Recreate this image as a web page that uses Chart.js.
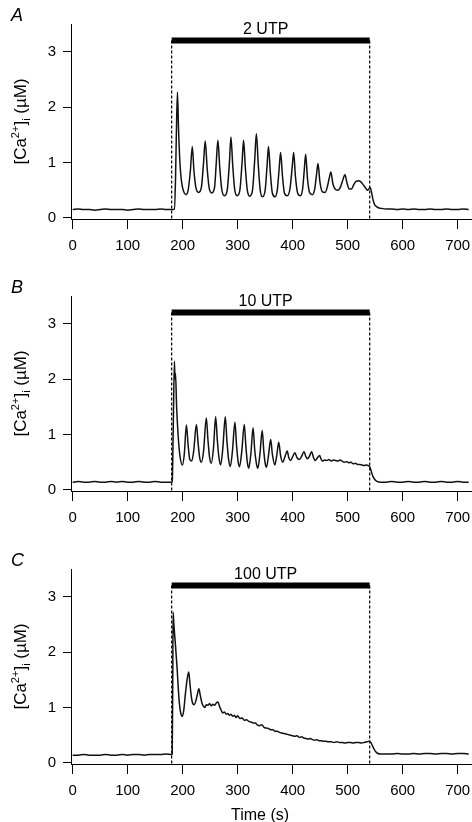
<!DOCTYPE html>
<html>
<head>
<meta charset="utf-8">
<script src="https://cdn.jsdelivr.net/npm/chart.js"></script>
<style>
  body { margin: 0; background: #fff; }
  .panel { position: relative; width: 472px; }
</style>
</head>
<body>
<div class="panel" style="height:272px"><canvas id="chartA"></canvas></div>
<div class="panel" style="height:273px"><canvas id="chartB"></canvas></div>
<div class="panel" style="height:277px"><canvas id="chartC"></canvas></div>
<script>
// Data (time in s, [Ca2+]i in uM)
const xTicks = [0, 100, 200, 300, 400, 500, 600, 700];
const yTicks = [0, 1, 2, 3];
const stimOn = 180;
const stimOff = 540;
const barLevel = 3.2;
const stimLabels = ['2 UTP', '10 UTP', '100 UTP'];
const panelLetters = ['A', 'B', 'C'];

const traceA = [
  [0,0.15],[10,0.16],[20,0.15],[30,0.15],[40,0.14],[50,0.15],[60,0.16],[70,0.15],[80,0.15],[90,0.15],
  [100,0.14],[110,0.15],[120,0.16],[130,0.15],[140,0.15],[150,0.15],[160,0.16],[170,0.15],[180,0.15],
  [185,0.16],[187,0.7],[188.5,1.5],[190.5,2.27],[192.5,1.6],[195,1.0],[198,0.65],[202,0.47],[206,0.42],
  [210,0.5],[214,0.85],[217.5,1.29],[220.5,0.85],[224,0.55],[229,0.46],[234,0.55],[238,1.0],[241,1.39],
  [244.5,0.9],[248,0.55],[253,0.45],[258,0.55],[261,0.98],[264,1.40],[267.5,0.9],[271,0.52],[276,0.40],
  [281,0.5],[285,1.0],[287.7,1.46],[291,0.95],[294.5,0.52],[299,0.40],[304,0.5],[308,1.0],[310.7,1.40],
  [314,0.9],[317.5,0.5],[322,0.39],[327,0.5],[331,1.05],[334,1.52],[337.5,0.95],[341,0.5],[345,0.38],
  [350,0.5],[353.5,0.95],[356,1.29],[359.5,0.8],[363,0.45],[368,0.38],[372,0.5],[375.5,0.9],[378,1.18],
  [381.5,0.75],[385,0.45],[390,0.40],[395,0.52],[399,0.9],[401.8,1.18],[405,0.75],[409,0.45],[414,0.40],
  [418,0.52],[421,0.85],[423.6,1.15],[427,0.7],[431,0.45],[436,0.42],[440,0.52],[443,0.75],[446,0.98],
  [449.5,0.65],[454,0.47],[459,0.46],[463,0.56],[466.5,0.72],[469.5,0.83],[473,0.62],[477,0.52],[482,0.50],
  [487,0.56],[491,0.68],[495,0.78],[499,0.62],[503,0.52],[507,0.52],[511,0.60],[515,0.66],[520,0.67],
  [524,0.65],[528,0.60],[532,0.55],[536,0.50],[539,0.53],[541,0.55],[543,0.48],[546,0.33],[549,0.24],
  [553,0.20],[557,0.18],[562,0.17],[570,0.16],[580,0.16],[590,0.15],[600,0.16],[610,0.15],[620,0.16],
  [630,0.15],[640,0.15],[650,0.16],[660,0.15],[670,0.15],[680,0.16],[690,0.15],[700,0.15],[710,0.16],[720,0.15]
];

const traceB = [
  [0,0.14],[10,0.15],[20,0.14],[30,0.14],[40,0.15],[50,0.14],[60,0.14],[70,0.15],[80,0.14],[90,0.15],
  [100,0.14],[110,0.14],[120,0.15],[130,0.14],[140,0.14],[150,0.15],[160,0.14],[170,0.14],[180,0.14],
  [181,0.15],[183,1.2],[185,2.32],[186,2.0],[187,2.1],[189,1.5],[192,0.95],[195,0.62],[199.6,0.45],
  [203,0.65],[206.8,1.17],[210,0.8],[213,0.55],[216.5,0.52],[220,0.7],[225,1.18],[228,0.85],[231,0.58],
  [234,0.50],[238,0.7],[243,1.30],[246,0.9],[249,0.58],[252,0.48],[256,0.75],[260,1.32],[263,0.9],
  [266,0.58],[269,0.45],[273,0.75],[277.5,1.32],[280.5,0.88],[283.5,0.55],[286.6,0.42],[290.5,0.7],
  [295,1.22],[298,0.8],[300.7,0.52],[303.4,0.42],[307.5,0.7],[312,1.18],[315,0.78],[317.5,0.5],[320,0.39],
  [324,0.65],[328,1.12],[331,0.72],[334,0.48],[336.7,0.39],[340.5,0.65],[344.6,1.07],[347.5,0.7],[350,0.48],
  [352.4,0.41],[356,0.62],[360,0.91],[363,0.65],[367.5,0.45],[371,0.62],[374.7,0.86],[378,0.62],[382,0.50],
  [386,0.6],[390,0.70],[393,0.58],[396,0.53],[400,0.6],[404,0.67],[408,0.58],[412,0.55],[416,0.6],
  [420.6,0.69],[424,0.6],[427,0.56],[431,0.62],[434.4,0.69],[438,0.58],[441,0.53],[445,0.58],[449,0.62],
  [451.5,0.56],[454,0.52],[458,0.54],[462,0.53],[466,0.55],[470,0.52],[474,0.54],[478,0.53],[482,0.52],
  [486,0.54],[490,0.52],[494,0.50],[498,0.51],[502,0.49],[506,0.50],[510,0.47],[514,0.48],[518,0.46],
  [522,0.46],[526,0.45],[530,0.44],[534,0.45],[537,0.44],[540,0.42],[543,0.33],[546,0.24],[550,0.18],
  [554,0.15],[560,0.14],[570,0.14],[580,0.15],[590,0.14],[600,0.14],[610,0.15],[620,0.14],[630,0.14],
  [640,0.15],[650,0.14],[660,0.14],[670,0.15],[680,0.14],[690,0.14],[700,0.15],[710,0.14],[720,0.14]
];

const traceC = [
  [0,0.14],[10,0.14],[20,0.15],[30,0.14],[40,0.14],[50,0.14],[60,0.15],[70,0.14],[80,0.14],[90,0.15],
  [100,0.14],[110,0.15],[120,0.15],[130,0.14],[140,0.15],[150,0.15],[160,0.15],[170,0.16],[180,0.15],
  [181,0.16],[182,1.5],[182.6,2.72],[184,2.5],[185.5,2.3],[187,2.12],[188.5,1.9],[190,1.69],[192,1.35],
  [194,1.08],[196.5,0.9],[199.6,0.84],[202,0.95],[205,1.25],[208,1.5],[211,1.64],[213.5,1.4],[216,1.18],
  [218,1.08],[220.7,1.05],[224,1.12],[227,1.25],[229.5,1.34],[232,1.22],[235,1.08],[238,1.02],[240,1.0],
  [243,1.05],[246,1.04],[249,1.07],[252,1.03],[255,1.06],[258,1.04],[261,1.08],[264,1.1],[267,1.02],
  [270,0.95],[273,0.9],[276,0.92],[279,0.88],[282,0.89],[285,0.86],[288,0.88],[291,0.84],[294,0.86],
  [297,0.82],[300,0.85],[304,0.80],[308,0.81],[312,0.77],[316,0.78],[320,0.75],[324,0.74],[328,0.72],
  [332,0.72],[336,0.68],[340,0.67],[344,0.69],[348,0.64],[352,0.63],[356,0.62],[360,0.60],[364,0.60],
  [368,0.57],[372,0.57],[376,0.55],[380,0.54],[384,0.53],[388,0.52],[392,0.51],[396,0.50],[400,0.49],
  [404,0.48],[408,0.49],[412,0.46],[416,0.47],[420,0.45],[424,0.44],[428,0.43],[432,0.44],[436,0.42],
  [440,0.41],[444,0.42],[448,0.40],[452,0.40],[456,0.39],[460,0.39],[465,0.38],[470,0.38],[475,0.37],
  [480,0.38],[485,0.37],[490,0.37],[495,0.36],[500,0.37],[505,0.37],[510,0.36],[515,0.37],[520,0.37],
  [525,0.36],[530,0.37],[535,0.38],[539,0.39],[542,0.37],[545,0.31],[548,0.25],[551,0.20],[555,0.17],
  [560,0.16],[570,0.16],[580,0.16],[590,0.17],[600,0.16],[610,0.16],[620,0.17],[630,0.16],[640,0.17],
  [650,0.17],[660,0.16],[670,0.17],[680,0.17],[690,0.16],[700,0.17],[710,0.17],[720,0.16]
];

const traces = [traceA, traceB, traceC];

const FONT = '"Liberation Sans", Arial, Helvetica, sans-serif';
Chart.defaults.font.family = FONT;
Chart.defaults.color = '#000';

const yMin = -0.02, yMax = 3.5;
const xMin = -3, xMax = 726;

// draws the panel letter, stimulus label, y title (with sup/sub) and x title
const decorPlugin = {
  id: 'decor',
  afterDraw(chart, args, opts) {
    const ctx = chart.ctx;
    const xs = chart.scales.x, ys = chart.scales.y;
    ctx.save();
    ctx.fillStyle = '#000';

    // panel letter
    ctx.font = 'italic 18px ' + FONT;
    ctx.textAlign = 'left';
    ctx.textBaseline = 'alphabetic';
    ctx.fillText(opts.letter, 11, 21);

    // stimulus label over bar
    ctx.font = '16px ' + FONT;
    ctx.textAlign = 'center';
    const mid = (xs.getPixelForValue(stimOn) + xs.getPixelForValue(stimOff)) / 2;
    ctx.fillText(opts.label, mid - 5, 34);

    // y title: [Ca2+]i (uM)
    const parts = [
      { t: '[Ca', size: 17, dy: 0 },
      { t: '2+', size: 11, dy: -7 },
      { t: ']', size: 17, dy: 0 },
      { t: 'i', size: 11, dy: 4 },
      { t: ' (\u00B5M)', size: 17, dy: 0 }
    ];
    let total = 0;
    parts.forEach(p => { ctx.font = p.size + 'px ' + FONT; p.w = ctx.measureText(p.t).width; total += p.w; });
    const yc = (ys.getPixelForValue(yMax) + ys.getPixelForValue(yMin)) / 2;
    ctx.translate(25.5, yc);
    ctx.rotate(-Math.PI / 2);
    ctx.textAlign = 'left';
    let cx = -total / 2;
    parts.forEach(p => { ctx.font = p.size + 'px ' + FONT; ctx.fillText(p.t, cx, p.dy); cx += p.w; });
    ctx.restore();

    if (opts.xTitle) {
      ctx.save();
      ctx.fillStyle = '#000';
      ctx.font = '16px ' + FONT;
      ctx.textAlign = 'center';
      ctx.textBaseline = 'alphabetic';
      ctx.fillText(opts.xTitle, 260, chart.height - 2.5);
      ctx.restore();
    }
  }
};

function makePanel(id, idx) {
  const canvas = document.getElementById(id);
  const h = canvas.parentNode.clientHeight;
  const isLast = idx === 2;
  return new Chart(canvas, {
    type: 'line',
    data: {
      datasets: [
        {
          data: traces[idx].map(p => ({ x: p[0], y: p[1] })),
          borderColor: '#111',
          borderWidth: 1.5,
          pointRadius: 0,
          cubicInterpolationMode: 'monotone'
        },
        {
          data: [{ x: stimOn, y: barLevel }, { x: stimOff, y: barLevel }],
          borderColor: '#000',
          borderWidth: 6,
          borderCapStyle: 'butt',
          pointRadius: 0
        },
        {
          data: [{ x: stimOn, y: barLevel }, { x: stimOn, y: yMin }],
          borderColor: '#000',
          borderWidth: 1.2,
          borderDash: [3, 2],
          pointRadius: 0
        },
        {
          data: [{ x: stimOff, y: barLevel }, { x: stimOff, y: yMin }],
          borderColor: '#000',
          borderWidth: 1.2,
          borderDash: [3, 2],
          pointRadius: 0
        }
      ]
    },
    options: {
      responsive: true,
      maintainAspectRatio: false,
      animation: false,
      layout: { padding: { top: 24, left: 0, right: 0, bottom: 0 } },
      plugins: {
        legend: { display: false },
        tooltip: { enabled: false },
        decor: { letter: panelLetters[idx], label: stimLabels[idx], xTitle: isLast ? 'Time (s)' : null }
      },
      scales: {
        x: {
          type: 'linear',
          min: xMin,
          max: xMax,
          afterBuildTicks: s => { s.ticks = xTicks.map(v => ({ value: v })); },
          afterFit: s => { s.height = h - 219; s.paddingLeft = 0; s.paddingRight = 0; },
          ticks: { font: { size: 15 }, color: '#000', padding: 8, maxRotation: 0, autoSkip: false },
          grid: { drawOnChartArea: false, drawTicks: true, tickLength: 10, color: '#000', tickWidth: 1 },
          border: { display: true, color: '#000', width: 1 }
        },
        y: {
          min: yMin,
          max: yMax,
          afterBuildTicks: s => { s.ticks = yTicks.map(v => ({ value: v })); },
          afterFit: s => { s.width = 71; s.paddingTop = 0; s.paddingBottom = 0; },
          ticks: { font: { size: 15 }, color: '#000', padding: 7 },
          grid: { drawOnChartArea: false, drawTicks: true, tickLength: 8, color: '#000', tickWidth: 1 },
          border: { display: true, color: '#000', width: 1 }
        }
      }
    },
    plugins: [decorPlugin]
  });
}

makePanel('chartA', 0);
makePanel('chartB', 1);
makePanel('chartC', 2);
</script>
</body>
</html>
